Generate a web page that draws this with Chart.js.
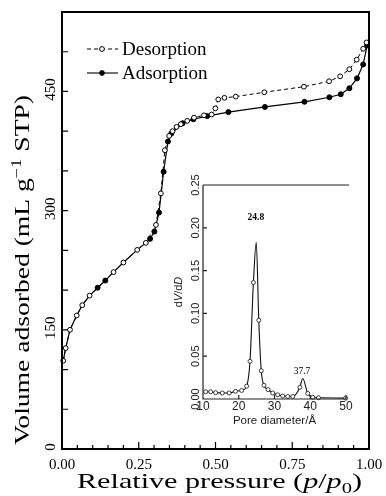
<!DOCTYPE html>
<html>
<head>
<meta charset="utf-8">
<script src="https://cdn.jsdelivr.net/npm/chart.js@4.4.1/dist/chart.umd.min.js"></script>
<style>
  html, body { margin: 0; padding: 0; background: #fff; }
  #wrap { position: relative; width: 386px; height: 496px; }
  #wrap canvas { position: absolute; left: 0; top: 0; }
</style>
</head>
<body>
<div id="wrap">
  <canvas id="isotherm" width="386" height="496"></canvas>
  <canvas id="inset" width="386" height="496"></canvas>
</div>
<script>
// Isotherm: desorption branch (open circles, dashed)
const desP = [0.004, 0.012, 0.026, 0.048, 0.066, 0.09, 0.168, 0.2, 0.245, 0.273, 0.306, 0.322, 0.335, 0.349, 0.36, 0.373, 0.387, 0.408, 0.43, 0.4625, 0.4875, 0.4995, 0.509, 0.529, 0.566, 0.659, 0.788, 0.87, 0.906, 0.936, 0.96, 0.981, 0.992];
const desV = [111, 127, 150, 168, 181, 193, 222.6, 234.7, 250.6, 259.4, 282, 321.7, 376, 394, 400, 405.4, 408.8, 413, 417, 420, 421, 428.7, 440, 442, 443.5, 449, 456, 462.8, 469, 478, 490, 503.7, 511.7];

// Adsorption branch (filled circles, solid); low-pressure points share the open markers
const adsP = [0.004, 0.012, 0.026, 0.048, 0.066, 0.09, 0.116, 0.141, 0.168, 0.2, 0.245, 0.273, 0.287, 0.301, 0.316, 0.331, 0.345, 0.356, 0.393, 0.428, 0.473, 0.542, 0.661, 0.79, 0.871, 0.908, 0.936, 0.961, 0.981, 0.994];
const adsV = [111, 127, 150, 168, 181, 193, 203, 212, 222.6, 234.7, 250.6, 259.4, 264.5, 273.6, 297.5, 349, 387, 397, 410, 415, 419, 424, 430.5, 437, 442.7, 446.5, 454, 466.5, 484, 508];
const adsMarked = [false, false, false, false, false, false, true, true, false, false, false, false, true, true, true, true, true, true, true, true, true, true, true, true, true, true, true, true, true, true];

// Main axes
const xTickValues = [0, 0.05, 0.1, 0.15, 0.2, 0.25, 0.3, 0.35, 0.4, 0.45, 0.5, 0.55, 0.6, 0.65, 0.7, 0.75, 0.8, 0.85, 0.9, 0.95, 1];
const xLabelValues = [0, 0.25, 0.5, 0.75, 1];
const xLabels = ['0.00', '0.25', '0.50', '0.75', '1.00'];
const yTickValues = [0, 50, 100, 150, 200, 250, 300, 350, 400, 450, 500, 550];
const yLabelValues = [0, 150, 300, 450];
const yLabels = ['0', '150', '300', '450'];

// Inset: pore size distribution
const poreD = [10.75, 12.15, 13.55, 15.4, 17.3, 19.1, 20.8, 22.2, 23.15, 24.1, 24.9, 25.6, 26.3, 27.05, 28.2, 29.5, 30.9, 32.3, 33.7, 35.1, 37.1, 37.9, 39.3, 40.7, 42.3, 49.9];
const dvdd = [0.0085, 0.0084, 0.0074, 0.007, 0.007, 0.009, 0.010, 0.015, 0.044, 0.136, 0.183, 0.092, 0.033, 0.016, 0.011, 0.007, 0.005, 0.0035, 0.003, 0.003, 0.0137, 0.024, 0.0065, 0.002, 0.0015, 0.001];
const dvddMarked = poreD.map((d, i) => i !== 10 && i !== 21);
const insetXTicks = [10, 20, 30, 40, 50];
const insetXLabels = ['10', '20', '30', '40', '50'];
const insetYTicks = [0, 0.05, 0.1, 0.15, 0.2, 0.25];
const insetYLabels = ['0.00', '0.05', '0.10', '0.15', '0.20', '0.25'];
const peakLabels = [{ x: 24.8, y: 0.212, text: '24.8', bold: true }, { x: 37.7, y: 0.032, text: '37.7', bold: false }];

const SERIF = '"Liberation Serif", "Times New Roman", serif';
const SANS = '"Liberation Sans", Arial, sans-serif';

// draw a sequence of text runs centred on (cx, baseline cy), optionally stretched to a width
function drawRuns(ctx, runs, cx, cy, targetW) {
    let w = 0;
    runs.forEach(r => { ctx.font = r.font; r.w = ctx.measureText(r.t).width; w += r.w; });
    const s = targetW ? targetW / w : 1;
    ctx.save();
    ctx.translate(cx, cy);
    ctx.scale(s, 1);
    ctx.textAlign = 'left';
    ctx.textBaseline = 'alphabetic';
    let xx = -w / 2;
    runs.forEach(r => { ctx.font = r.font; ctx.fillText(r.t, xx, r.dy || 0); xx += r.w; });
    ctx.restore();
}

const isoFrame = {
    id: 'isoFrame',
    afterDraw(chart) {
        const { ctx, chartArea: a, scales: { x, y } } = chart;
        ctx.save();
        ctx.strokeStyle = '#000';
        ctx.fillStyle = '#000';
        ctx.lineWidth = 2;
        ctx.strokeRect(a.left, a.top, a.right - a.left, a.bottom - a.top);

        // inward ticks
        ctx.lineWidth = 1.2;
        ctx.beginPath();
        xTickValues.forEach(v => {
            const px = x.getPixelForValue(v);
            const len = xLabelValues.some(l => Math.abs(l - v) < 1e-6) ? 7 : 4;
            ctx.moveTo(px, a.bottom); ctx.lineTo(px, a.bottom - len);
        });
        yTickValues.forEach(v => {
            const py = y.getPixelForValue(v);
            ctx.moveTo(a.left, py); ctx.lineTo(a.left + 6, py);
        });
        ctx.stroke();

        // tick labels
        ctx.font = '15px ' + SERIF;
        ctx.textAlign = 'center';
        ctx.textBaseline = 'middle';
        xLabelValues.forEach((v, i) => ctx.fillText(xLabels[i], x.getPixelForValue(v), a.bottom + 16));
        yLabelValues.forEach((v, i) => {
            ctx.save();
            ctx.translate(a.left - 11, y.getPixelForValue(v) - 2);
            ctx.rotate(-Math.PI / 2);
            ctx.fillText(yLabels[i], 0, 0);
            ctx.restore();
        });

        // axis titles
        drawRuns(ctx, [
            { t: 'Relative pressure (', font: '22px ' + SERIF },
            { t: 'p', font: 'italic 22px ' + SERIF },
            { t: '/', font: '22px ' + SERIF },
            { t: 'p', font: 'italic 22px ' + SERIF },
            { t: '0', font: '15px ' + SERIF, dy: 5 },
            { t: ')', font: '22px ' + SERIF }
        ], 219.5, 488, 285);

        ctx.save();
        ctx.translate(29, 270);
        ctx.rotate(-Math.PI / 2);
        drawRuns(ctx, [
            { t: 'Volume adsorbed (mL g', font: '21px ' + SERIF },
            { t: '\u22121', font: '14px ' + SERIF, dy: -8 },
            { t: ' STP)', font: '21px ' + SERIF }
        ], 0, 0, 350);
        ctx.restore();

        // legend
        const legendRows = [
            { label: 'Desorption', y: 49, dash: [4, 3], fill: '#fff' },
            { label: 'Adsorption', y: 73, dash: [], fill: '#000' }
        ];
        legendRows.forEach(r => {
            ctx.setLineDash(r.dash);
            ctx.lineWidth = 1.1;
            ctx.beginPath();
            ctx.moveTo(87, r.y); ctx.lineTo(118, r.y);
            ctx.stroke();
            ctx.setLineDash([]);
            ctx.beginPath();
            ctx.arc(102, r.y, 2.4, 0, Math.PI * 2);
            ctx.fillStyle = r.fill;
            ctx.fill();
            ctx.lineWidth = 1;
            ctx.stroke();
            ctx.fillStyle = '#000';
            ctx.font = '19px ' + SERIF;
            ctx.textAlign = 'left';
            ctx.textBaseline = 'middle';
            ctx.fillText(r.label, 122, r.y + 1);
        });
        ctx.restore();
    }
};

const insetFrame = {
    id: 'insetFrame',
    afterDraw(chart) {
        const { ctx, chartArea: a, scales: { x, y } } = chart;
        ctx.save();
        ctx.strokeStyle = '#222';
        ctx.fillStyle = '#222';
        ctx.lineWidth = 1.2;
        ctx.beginPath();
        ctx.moveTo(a.left, a.top); ctx.lineTo(a.left, a.bottom); ctx.lineTo(a.right + 1, a.bottom);
        ctx.moveTo(a.left, a.top); ctx.lineTo(a.right + 3, a.top);
        insetXTicks.forEach(v => {
            const px = x.getPixelForValue(v);
            ctx.moveTo(px, a.bottom); ctx.lineTo(px, a.bottom - 4);
        });
        insetYTicks.forEach(v => {
            const py = y.getPixelForValue(v);
            ctx.moveTo(a.left, py); ctx.lineTo(a.left + 4, py);
        });
        ctx.stroke();

        ctx.font = '12px ' + SANS;
        ctx.textAlign = 'center';
        ctx.textBaseline = 'middle';
        insetXTicks.forEach((v, i) => ctx.fillText(insetXLabels[i], x.getPixelForValue(v), a.bottom + 8));
        ctx.font = '11px ' + SANS;
        insetYTicks.forEach((v, i) => {
            ctx.save();
            ctx.translate(a.left - 7, y.getPixelForValue(v));
            ctx.rotate(-Math.PI / 2);
            ctx.fillText(insetYLabels[i], 0, 0);
            ctx.restore();
        });

        drawRuns(ctx, [{ t: 'Pore diameter/\u00c5', font: '11.5px ' + SANS }], (a.left + a.right) / 2, a.bottom + 25);

        ctx.save();
        ctx.translate(182, 292);
        ctx.rotate(-Math.PI / 2);
        drawRuns(ctx, [
            { t: 'd', font: '11px ' + SANS },
            { t: 'V', font: 'italic 11px ' + SANS },
            { t: '/d', font: '11px ' + SANS },
            { t: 'D', font: 'italic 11px ' + SANS }
        ], 0, 0);
        ctx.restore();

        ctx.fillStyle = '#000';
        peakLabels.forEach(p => {
            ctx.font = (p.bold ? 'bold ' : '') + '9.5px ' + SERIF;
            ctx.textAlign = 'center';
            ctx.textBaseline = 'middle';
            ctx.fillText(p.text, x.getPixelForValue(p.x), y.getPixelForValue(p.y));
        });
        ctx.restore();
    }
};

new Chart(document.getElementById('isotherm'), {
    type: 'line',
    data: {
        datasets: [
            {
                label: 'Desorption',
                data: desP.map((p, i) => ({ x: p, y: desV[i] })),
                borderColor: '#000',
                borderWidth: 1,
                borderDash: [4, 3],
                pointRadius: 2.4,
                pointBorderWidth: 1,
                pointBorderColor: '#000',
                pointBackgroundColor: '#fff',
                tension: 0,
                clip: false
            },
            {
                label: 'Adsorption',
                data: adsP.map((p, i) => ({ x: p, y: adsV[i] })),
                borderColor: '#000',
                borderWidth: 1.2,
                pointRadius: adsMarked.map(m => m ? 2.5 : 0),
                pointBorderWidth: 1,
                pointBorderColor: '#000',
                pointBackgroundColor: '#000',
                tension: 0,
                clip: false
            }
        ]
    },
    options: {
        responsive: false,
        animation: false,
        devicePixelRatio: 1,
        layout: { padding: { left: 62, right: 17, top: 12, bottom: 47 } },
        plugins: { legend: { display: false }, tooltip: { enabled: false } },
        scales: {
            x: { type: 'linear', min: 0, max: 1, display: false },
            y: { type: 'linear', min: 0, max: 550, display: false }
        }
    },
    plugins: [isoFrame]
});

new Chart(document.getElementById('inset'), {
    type: 'line',
    data: {
        datasets: [{
            label: 'dV/dD',
            data: poreD.map((d, i) => ({ x: d, y: dvdd[i] })),
            borderColor: '#111',
            borderWidth: 1.1,
            pointRadius: dvddMarked.map(m => m ? 2 : 0),
            pointBorderWidth: 0.8,
            pointBorderColor: '#111',
            pointBackgroundColor: '#fff',
            cubicInterpolationMode: 'monotone',
            clip: false
        }]
    },
    options: {
        responsive: false,
        animation: false,
        devicePixelRatio: 1,
        layout: { padding: { left: 203, right: 40, top: 185, bottom: 97 } },
        plugins: { legend: { display: false }, tooltip: { enabled: false } },
        scales: {
            x: { type: 'linear', min: 10, max: 50, display: false },
            y: { type: 'linear', min: 0, max: 0.25, display: false }
        }
    },
    plugins: [insetFrame]
});
</script>
</body>
</html>
